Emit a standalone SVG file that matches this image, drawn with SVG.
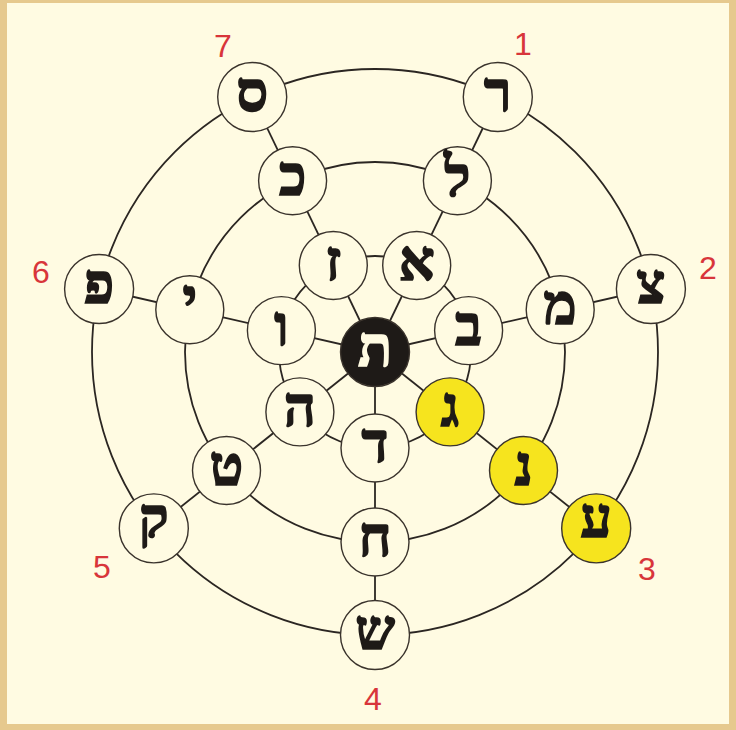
<svg xmlns="http://www.w3.org/2000/svg" width="736" height="730" viewBox="0 0 736 730">
<style>
.ring{fill:none;stroke:#2b2622;stroke-width:1.8}
.spoke{stroke:#2b2622;stroke-width:1.8}
.node circle{fill:#fffbe2;stroke:#3a332c;stroke-width:1.4}
.node.hl circle{fill:#f6e41e}
.node.c circle{fill:#1e1a17}
.node text{font-family:"Liberation Serif","DejaVu Sans",serif;font-weight:bold;font-size:56px;fill:#1e1a17;stroke:#1e1a17;stroke-width:1.6;text-anchor:middle}
.node.c text{fill:#fffbe2;stroke:#fffbe2}
.num{font-family:"Liberation Sans",Arial,sans-serif;font-size:32px;fill:#d8353a;text-anchor:middle}
</style>
<rect width="736" height="730" fill="#e6c98e"/>
<rect x="7" y="3" width="722" height="721" fill="#fffbe2"/>
<g id="connectors">
<circle class="ring" cx="375" cy="352" r="96"/>
<circle class="ring" cx="375" cy="352" r="190"/>
<circle class="ring" cx="375" cy="352" r="283"/>
<line class="spoke" x1="375" y1="352" x2="375" y2="635"/>
<line class="spoke" x1="375" y1="352" x2="596.2" y2="528.4"/>
<line class="spoke" x1="375" y1="352" x2="650.9" y2="289"/>
<line class="spoke" x1="375" y1="352" x2="497.8" y2="97"/>
<line class="spoke" x1="375" y1="352" x2="252.2" y2="97"/>
<line class="spoke" x1="375" y1="352" x2="99.1" y2="289"/>
<line class="spoke" x1="375" y1="352" x2="153.8" y2="528.4"/>
</g>
<g id="n-tav" class="node c"><circle cx="375" cy="352" r="34.5"/><text x="375" y="366">ת</text></g>
<g id="n-dalet" class="node"><circle cx="375" cy="448" r="34"/><text x="375" y="462">ד</text></g>
<g id="n-gimel" class="node hl"><circle cx="450.1" cy="411.9" r="34"/><text x="450.1" y="426">ג</text></g>
<g id="n-bet" class="node"><circle cx="468.6" cy="330.6" r="34"/><text x="468.6" y="345">ב</text></g>
<g id="n-alef" class="node"><circle cx="416.7" cy="265.5" r="34"/><text x="416.7" y="280">א</text></g>
<g id="n-zayin" class="node"><circle cx="333.3" cy="265.5" r="34"/><text x="333.3" y="280">ז</text></g>
<g id="n-vav" class="node"><circle cx="281.4" cy="330.6" r="34"/><text x="281.4" y="345">ו</text></g>
<g id="n-he" class="node"><circle cx="299.9" cy="411.9" r="34"/><text x="299.9" y="426">ה</text></g>
<g id="n-het" class="node"><circle cx="375" cy="542" r="34"/><text x="375" y="556">ח</text></g>
<g id="n-nun" class="node hl"><circle cx="523.5" cy="470.5" r="34"/><text x="523.5" y="485">נ</text></g>
<g id="n-mem" class="node"><circle cx="560.2" cy="309.7" r="34"/><text x="560.2" y="324">מ</text></g>
<g id="n-lamed" class="node"><circle cx="457.4" cy="180.8" r="34"/><text x="457.4" y="196">ל</text></g>
<g id="n-kaf" class="node"><circle cx="292.6" cy="180.8" r="34"/><text x="292.6" y="195">כ</text></g>
<g id="n-yod" class="node"><circle cx="189.8" cy="309.7" r="34"/><text x="189.8" y="318">י</text></g>
<g id="n-tet" class="node"><circle cx="226.5" cy="470.5" r="34"/><text x="226.5" y="485">ט</text></g>
<g id="n-shin" class="node"><circle cx="375" cy="635" r="34.5"/><text x="375" y="649">ש</text></g>
<g id="n-ayin" class="node hl"><circle cx="596.2" cy="528.4" r="34.5"/><text x="596.2" y="537">ע</text></g>
<g id="n-tsadi" class="node"><circle cx="650.9" cy="289" r="34.5"/><text x="650.9" y="303">צ</text></g>
<g id="n-resh" class="node"><circle cx="497.8" cy="97" r="34.5"/><text x="497.8" y="111">ר</text></g>
<g id="n-samekh" class="node"><circle cx="252.2" cy="97" r="34.5"/><text x="252.2" y="111">ס</text></g>
<g id="n-pe" class="node"><circle cx="99.1" cy="289" r="34.5"/><text x="99.1" y="303">פ</text></g>
<g id="n-qof" class="node"><circle cx="153.8" cy="528.4" r="34.5"/><text x="153.8" y="537">ק</text></g>
<g id="labels">
<text class="num" x="523" y="55">1</text>
<text class="num" x="708" y="279">2</text>
<text class="num" x="647" y="580">3</text>
<text class="num" x="373" y="710">4</text>
<text class="num" x="102" y="578">5</text>
<text class="num" x="41" y="283">6</text>
<text class="num" x="223" y="57">7</text>
</g>
</svg>
